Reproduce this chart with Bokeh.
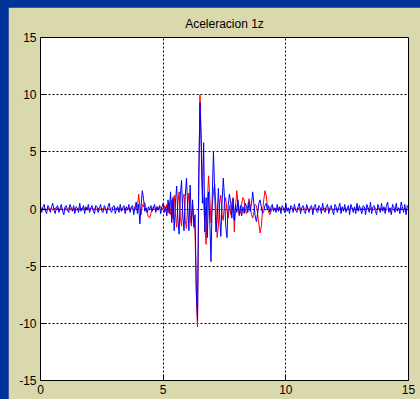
from bokeh.plotting import figure
from bokeh.models import Range1d, FixedTicker
from bokeh.embed import file_html
from bokeh.resources import INLINE

# ---- data ----
dt = 0.05
blue_vals = [
    0.1, -0.3, 0.2, 0.4, -0.2, -0.4, 0.3, 0.1, -0.3, 0.2,
    0.5, -0.1, -0.4, 0.2, 0.3, -0.3, 0.1, 0.4, -0.2, -0.5,
    0.2, 0.3, -0.1, -0.3, 0.4, 0.1, -0.2, 0.3, -0.4, 0.2,
    0.1, -0.3, 0.5, -0.2, 0.0, 0.3, -0.4, 0.2, -0.1, 0.4,
    -0.3, 0.1, 0.3, -0.2, -0.4, 0.3, 0.2, -0.3, 0.1, 0.4,
    -0.2, -0.3, 0.3, 0.1, -0.4, 0.2, 0.5, -0.1, -0.3, 0.2,
    0.3, -0.4, 0.1, 0.2, -0.3, 0.4, -0.2, 0.1, 0.3, -0.4,
    0.2, -0.1, 0.4, -0.3, 0.2, 0.3, -0.5, 0.1, 0.6, -0.4,
    0.4, -1.3, 0.3, 1.6, 0.9, -0.2, 0.1, -0.3, 0.2, -0.1,
    0.3, -0.2, 0.1, 0.4, -0.3, 0.2, -0.1, 0.3, -0.4, 0.2,
    0.5, -0.3, 0.2, -0.6, 0.8, -0.4, 1.5, -1.2, 1.0, -1.9,
    0.6, 2.0, -0.8, -2.2, 1.2, 2.5, -0.5, -1.9, 1.1, 2.7,
    0.3, -1.9, 2.1, -1.2, 0.8, -1.6, -0.5, -7.0, -9.8, 3.0,
    9.3, 5.5, 0.5, 5.8, -2.0, 1.0, -2.5, 1.5, -1.0, -4.6,
    1.0, 5.0, 1.5, -2.0, -1.0, 1.8, -0.5, -2.4, 0.5, 2.7,
    1.0, -1.5, -2.5, 0.3, 1.3, 0.6, -0.8, 0.9, -1.0, 0.4,
    -0.3, 0.8, -0.5, 0.3, -0.6, 0.2, -0.4, 0.5, 0.2, -0.3,
    0.6, -0.2, 0.5, 1.5, 0.4, -0.6, -1.1, -0.4, 0.5, 0.8,
    0.2, -0.4, -0.2, 0.3, 0.5, -0.1, 0.3, -0.3, 0.2, 0.4,
    -0.2,
    0.1, -0.3, 0.4, -0.2, 0.2, -0.4, 0.3, 0.1, -0.3, 0.5,
    -0.2, 0.1, -0.4, 0.3, 0.2, -0.3, 0.4, -0.1, -0.3, 0.2,
    0.5, -0.4, 0.1, 0.3, -0.2, -0.4, 0.4, 0.0, -0.3, 0.2,
    0.3, -0.5, 0.2, 0.4, -0.2, -0.3, 0.3, 0.1, -0.4, 0.5,
    -0.1, -0.3, 0.2, 0.4, -0.4, 0.1, 0.3, -0.2, -0.5, 0.4,
    0.2, -0.3, 0.1, 0.5, -0.4, 0.2, -0.2, 0.4, -0.3, 0.1,
    0.3, -0.5, 0.4, 0.1, -0.3, 0.2, -0.4, 0.5, -0.2, 0.3,
    -0.1, -0.4, 0.3, 0.2, -0.5, 0.4, 0.1, -0.3, 0.6, -0.4,
    0.2, 0.3, -0.2, -0.5, 0.4, 0.1, -0.3, 0.5, -0.2, 0.2,
    -0.4, 0.3, 0.6, -0.3, 0.1, -0.5, 0.4, 0.2, -0.3, 0.5,
    -0.2, 0.1, -0.4, 0.6, 0.2, -0.3, 0.4, -0.5, 0.3, 0.1,
]
red_vals = [
    0.0, 0.1, -0.1, 0.1, 0.0, -0.1, 0.1, -0.1, 0.0, 0.1,
    -0.1, 0.0, 0.1, -0.1, 0.1, 0.0, -0.1, 0.1, 0.0, -0.1,
    0.1, -0.1, 0.0, 0.1, -0.1, 0.1, 0.0, -0.1, 0.1, -0.1,
    0.0, 0.1, -0.1, 0.0, 0.1, -0.1, 0.1, 0.0, -0.1, 0.1,
    -0.1, 0.0, 0.1, -0.1, 0.1, -0.1, 0.0, 0.1, -0.1, 0.0,
    0.1, -0.1, 0.1, 0.0, -0.1, 0.1, -0.1, 0.0, 0.1, -0.1,
    0.0, 0.1, -0.1, 0.1, 0.0, -0.1, 0.1, -0.1, 0.0, 0.1,
    -0.1, 0.0, 0.1, -0.1, 0.1, 0.0, -0.1, 0.2, -0.1, 0.1,
    1.3, 0.2, -0.5, 0.4, 0.2, 0.55, 0.1, -0.4, -0.7, -0.75,
    -0.4, 0.0, 0.2, 0.1, -0.1, 0.2, -0.1, 0.1, 0.2, -0.1,
    0.1, 0.3, -0.2, 0.4, -0.3, 0.6, -0.5, 0.8, -0.9, 1.2,
    -0.4, -1.6, 0.5, 1.5, -0.8, -1.5, 0.9, 1.3, -1.0, -1.7,
    0.4, 1.4, -0.6, -1.5, 0.3, -0.8, -2.0, -7.4, -10.3, 1.0,
    10.0, 6.5, 1.6, 0.5, -1.5, -3.1, 0.5, 2.9, 1.0, -1.2,
    0.3, 1.5, 2.2, 0.2, -2.5, -1.5, 0.5, 1.2, -0.5, -1.0,
    0.6, 1.0, -0.2, -0.8, 0.3, -0.5, 0.5, 1.0, -2.0, 0.2,
    1.6, 0.5, -0.6, -0.3, 0.5, 1.0, 0.8, -0.2, -0.4, 0.3,
    0.9, 0.2, -0.5, -0.8, -0.2, 0.4, 0.3, -0.4, -1.3, -2.1,
    -1.5, -0.2, 0.8, 1.6, 1.2, 0.2, -0.3, -0.5, -0.2, 0.2,
    -0.1,
    0.1, -0.1, 0.0, 0.1, -0.1, 0.1, 0.0, -0.1, 0.1, -0.1,
    0.0, 0.1, -0.1, 0.1, 0.0, -0.1, 0.1, -0.1, 0.0, 0.1,
    -0.1, 0.1, 0.0, -0.1, 0.1, 0.0, -0.1, 0.1, -0.1, 0.0,
    0.1, -0.1, 0.1, 0.0, -0.1, 0.1, -0.1, 0.0, 0.1, -0.1,
    0.0, 0.1, -0.1, 0.0, 0.1, -0.1, 0.1, 0.0, -0.1, 0.1,
    -0.1, 0.0, 0.1, -0.1, 0.1, 0.0, -0.1, 0.1, 0.0, -0.1,
    0.1, -0.1, 0.0, 0.1, -0.1, 0.1, -0.1, 0.0, 0.1, -0.1,
    0.0, 0.1, -0.1, 0.1, 0.0, -0.1, 0.1, -0.1, 0.0, 0.1,
    -0.1, 0.0, 0.1, -0.1, 0.1, 0.0, -0.1, 0.1, -0.1, 0.0,
    0.1, -0.1, 0.0, 0.1, -0.1, 0.1, 0.0, -0.1, 0.1, -0.1,
    0.0, 0.1, -0.1, 0.1, 0.0, -0.1, 0.1, 0.0, -0.1, 0.1,
]
x_ticks = [0, 5, 10, 15]
y_ticks = [-15, -10, -5, 0, 5, 10, 15]
title_text = "Aceleracion 1z"

t_blue = [i * dt for i in range(len(blue_vals))]
t_red = [i * dt for i in range(len(red_vals))]

FONT = "Liberation Sans"
p = figure(width=412, height=392, output_backend="svg", toolbar_location=None,
           x_range=Range1d(0, 15), y_range=Range1d(-15, 15),
           min_border_left=32, min_border_right=12, min_border_top=29,
           min_border_bottom=19)
p.border_fill_color = "#d9d9ad"
p.background_fill_color = "white"
p.outline_line_color = "black"

p.title.text = title_text
p.title.align = "center"
p.title.text_font = FONT
p.title.text_font_size = "12px"
p.title.text_font_style = "normal"
p.title.text_color = "black"
p.title.standoff = 14

for ax, ticks in ((p.xaxis[0], x_ticks), (p.yaxis[0], y_ticks)):
    ax.ticker = FixedTicker(ticks=ticks)
    ax.major_label_overrides = {v: str(v) for v in ticks}
    ax.major_tick_in = 6
    ax.major_tick_out = 0
    ax.minor_tick_in = 0
    ax.minor_tick_out = 0
    ax.major_label_standoff = 4
    ax.major_label_text_font = FONT
    ax.major_label_text_font_size = "12px"
    ax.major_label_text_color = "black"
    ax.axis_line_color = "black"
    ax.major_tick_line_color = "black"

p.xgrid.ticker = FixedTicker(ticks=x_ticks)
p.ygrid.ticker = FixedTicker(ticks=y_ticks)
for g in (p.xgrid[0], p.ygrid[0]):
    g.grid_line_color = "black"
    g.grid_line_dash = "2 2"
    g.grid_line_width = 1
    g.grid_line_alpha = 1.0

p.line(t_red, red_vals, line_color="#ff0000", line_width=1)
p.line(t_blue, blue_vals, line_color="#0000ff", line_width=1)

TEMPLATE = """{% block postamble %}<style>html, body { background: #003399; } body { padding: 7px 0 0 8px; }</style>{% endblock %}"""

open("out.html", "w").write(file_html(p, INLINE, template=TEMPLATE))
